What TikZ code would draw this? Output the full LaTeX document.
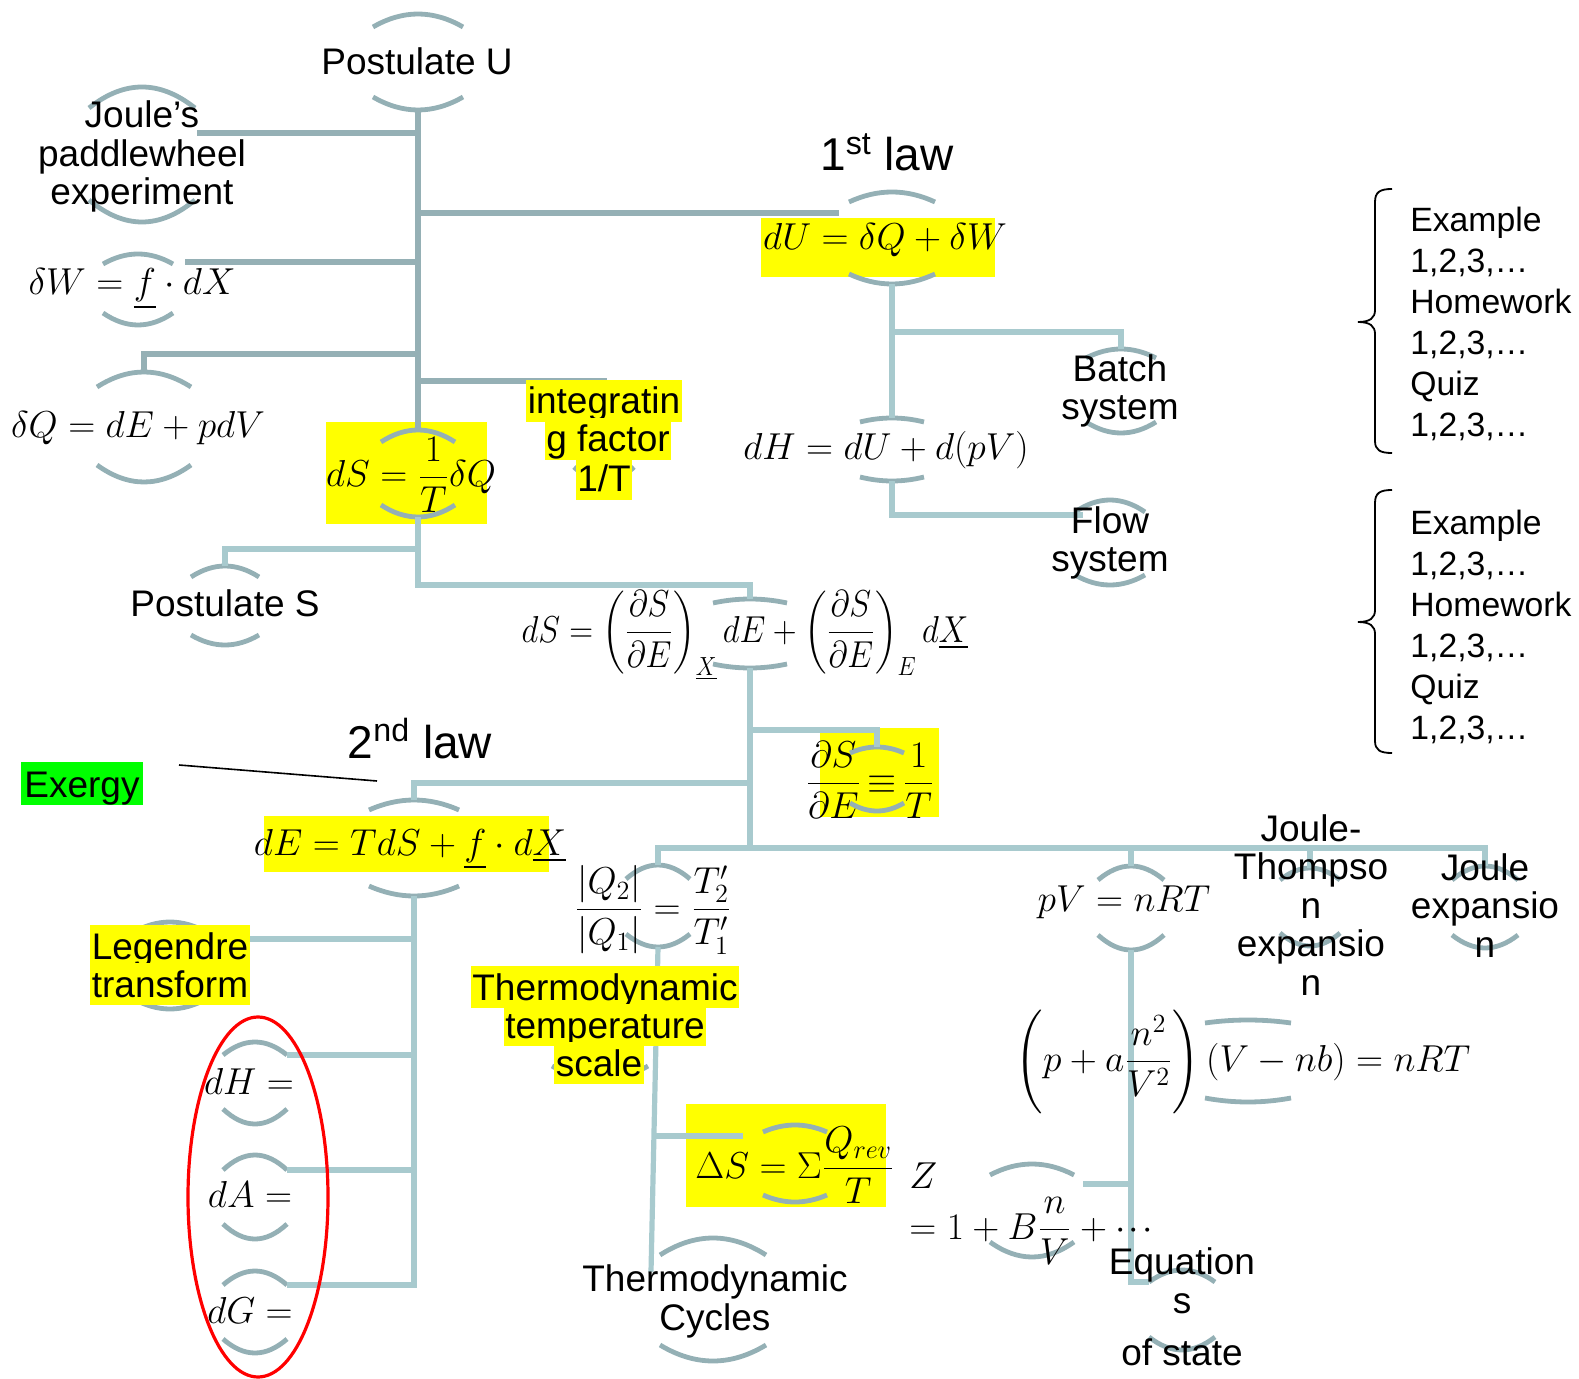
\RequirePackage{fix-cm}
\documentclass[tikz,border=0pt]{standalone}
\usepackage{amsmath}
\usepackage{graphicx}
\usepackage[no-math]{fontspec}
\setmainfont{Liberation Sans}

\definecolor{arcc}{RGB}{148,176,181}
\definecolor{lined}{RGB}{149,176,181}
\definecolor{linel}{RGB}{168,202,206}
\definecolor{hly}{RGB}{255,255,0}
\definecolor{hlg}{RGB}{0,255,0}

% two bracket arcs (above and below) framing a concept
% #1 name, #2 centre x, #3 half width, #4 top ends y, #5 top peak y,
% #6 bottom ends y, #7 bottom trough y
\newcommand\nodearcs[7]{%
  \coordinate (#1-t) at (#2,#5);
  \coordinate (#1-b) at (#2,#7);
  \coordinate (#1-tl) at ({#2-#3},#4);
  \coordinate (#1-tr) at ({#2+#3},#4);
  \coordinate (#1-bl) at ({#2-#3},#6);
  \coordinate (#1-br) at ({#2+#3},#6);
  \draw[arcline] (#1-tl) .. controls ({#2-#3/3},{#4+4/3*(#5-#4)}) and ({#2+#3/3},{#4+4/3*(#5-#4)}) .. (#1-tr);
  \draw[arcline] (#1-bl) .. controls ({#2-#3/3},{#6+4/3*(#7-#6)}) and ({#2+#3/3},{#6+4/3*(#7-#6)}) .. (#1-br);
}
% compact centred dots
\newcommand\tightdots{\mathinner{\cdotp\mkern-1.5mu\cdotp\mkern-1.5mu\cdotp}}

\begin{document}
\begin{tikzpicture}[x=0.5pt, y=-0.5pt,
  arcline/.style={draw=arcc, line width=2.4pt},
  darkline/.style={draw=lined, line width=2.8pt},
  lightline/.style={draw=linel, line width=2.6pt},
  lbl/.style={inner sep=0pt, align=center, anchor=base, font=\fontsize{18.5}{19.25}\selectfont},
  eqn/.style={inner sep=0pt, anchor=base, font=\fontsize{18.75}{22}\selectfont},
  hl/.style={fill=hly, inner xsep=0.8pt, inner ysep=0pt, anchor=base, text height=16.8pt, text depth=4.2pt, font=\fontsize{18.5}{19.25}\selectfont},
  lawlbl/.style={inner sep=0pt, anchor=base, font=\fontsize{23}{27}\selectfont},
  listlbl/.style={inner sep=0pt, align=left, anchor=base west, font=\fontsize{16.85}{20.5}\selectfont},
]
\useasboundingbox (0,0) rectangle (1579,1379);

% highlight fields behind the equations
\fill[hly] (326,422) rectangle (487,524);
\fill[hly] (761,218) rectangle (995,277);
\fill[hly] (820,728) rectangle (939,817);
\fill[hly] (264,816) rectangle (549,872);
\fill[hly] (686,1104) rectangle (886,1207);

% bracket arcs of every concept
\nodearcs{pu}{418}{45}{27}{14}{97}{110}
\nodearcs{ju}{142}{53}{108}{87}{200}{222}
\nodearcs{dw}{138}{35}{264}{254}{313}{325}
\nodearcs{dq}{144}{47}{387}{372}{465}{482}
\nodearcs{if}{604}{30}{432}{420}{467}{482}
\nodearcs{dsq}{418}{37}{442}{430}{505}{517}
\nodearcs{ps}{225}{34}{577}{566}{635}{645}
\nodearcs{du}{892}{43}{202}{192}{274}{284}
\nodearcs{ba}{1121}{35}{358}{349}{422}{433}
\nodearcs{dh}{892}{32}{422}{418}{477}{481}
\nodearcs{fl}{1110}{35}{512}{500}{575}{585}
\nodearcs{dsx}{750}{37}{603}{599}{664}{668}
\nodearcs{eqd}{877}{27}{753}{747}{803}{811}
\nodearcs{de}{414}{45}{810}{800}{886}{896}
\nodearcs{lg}{170}{38}{933}{922}{998}{1009}
\nodearcs{dhh}{255}{32}{1055}{1042}{1109}{1124}
\nodearcs{da}{255}{32}{1170}{1155}{1224}{1239}
\nodearcs{dg}{255}{32}{1285}{1271}{1339}{1353}
\nodearcs{qr}{658}{32}{879}{865}{934}{947}
\nodearcs{tts}{600}{48}{985}{973}{1066}{1080}
\nodearcs{dsum}{795}{32}{1132}{1125}{1195}{1202}
\nodearcs{z}{1032}{42}{1175}{1164}{1242}{1257}
\nodearcs{tc}{713}{53}{1255}{1238}{1345}{1361}
\nodearcs{pv}{1131}{33}{880}{866}{935}{950}
\nodearcs{jt}{1310}{30}{880}{868}{933}{946}
\nodearcs{jx}{1485}{33}{880}{866}{935}{948}
\nodearcs{vdw}{1248}{43}{1023}{1020}{1098}{1102}
\nodearcs{eos}{1182}{33}{1282}{1270}{1337}{1350}

% upper tree
\draw[darkline] (pu-b) -- (dsq-t);
\coordinate (ju-e) at (197,133);
\draw[darkline] (ju-e) -- (ju-e -| pu-b);
\coordinate (du-e) at (839,213);
\draw[darkline] (du-e -| pu-b) -- (du-e);
\coordinate (dw-e) at (185,262);
\draw[darkline] (dw-e) -- (dw-e -| pu-b);
\coordinate (j-dq) at (418,354);
\draw[darkline] (j-dq) -| (dq-t);
\coordinate (j-if) at (418,381);
\draw[darkline] (j-if) -| (if-t);

% lower trees
\coordinate (j-dsx) at (418,585);
\draw[lightline] (dsq-b) -- (j-dsx) -| (dsx-t);
\coordinate (j-ps) at (418,549);
\draw[lightline] (j-ps) -| (ps-t);
\draw[lightline] (du-b) -- (dh-t);
\coordinate (j-ba) at (892,332);
\draw[lightline] (j-ba) -| (ba-t);
\coordinate (fl-e) at (1083,515);
\draw[lightline] (dh-b) |- (fl-e);
\coordinate (j-main) at (750,848);
\draw[lightline] (dsx-b) -- (j-main);
\coordinate (j-eqd) at (750,730);
\draw[lightline] (j-eqd) -| (eqd-t);
\coordinate (j-de) at (750,783);
\draw[lightline] (j-de) -| (de-t);
\draw[lightline] (qr-t) |- (jx-t |- j-main) -- (jx-t);
\draw[lightline] (pv-t) -- (pv-t |- j-main);
\draw[lightline] (jt-t) -- (jt-t |- j-main);
\draw[lightline] (de-b) |- (dg-tr);
\coordinate (lg-e) at (249,939);
\draw[lightline] (lg-e) -- (lg-e -| de-b);
\draw[lightline] (dhh-tr) -- (dhh-tr -| de-b);
\draw[lightline] (da-tr) -- (da-tr -| de-b);
\coordinate (tc-e) at (651,1272);
\draw[lightline] (qr-b) -- (tc-e);
\coordinate (j-dsum) at (655,1136);
\coordinate (dsum-e) at (743,1136);
\draw[lightline] (j-dsum) -- (dsum-e);
\draw[lightline] (pv-b) |- (eos-tl);
\coordinate (z-e) at (1083,1184);
\draw[lightline] (z-e) -- (z-e -| pv-b);

% potentials grouped by the red ring
\draw[red, line width=1.6pt] (258,1197) ellipse [x radius=70, y radius=180];

% pointer from Exergy
\coordinate (ex-a) at (179,765);
\coordinate (ex-b) at (377,781);
\draw[black, line width=0.8pt] (ex-a) -- (ex-b);

% braces in front of the exercise lists
\draw[line width=0.9pt] (1392,189) .. controls (1380,189) and (1375,192) .. (1375,202) -- (1375,310)
  .. controls (1375,318) and (1370,322) .. (1358,322) .. controls (1370,322) and (1375,326) .. (1375,334)
  -- (1375,441) .. controls (1375,450) and (1380,453) .. (1392,453);
\draw[line width=0.9pt] (1392,490) .. controls (1380,490) and (1375,493) .. (1375,503) -- (1375,610)
  .. controls (1375,618) and (1370,622) .. (1358,622) .. controls (1370,622) and (1375,626) .. (1375,634)
  -- (1375,741) .. controls (1375,750) and (1380,753) .. (1392,753);

% highlighted word labels (trailing spaces are highlighted too)
\node[hl] (if1) at (604,414) {integratin};
\node[hl] (if2) at (608,452) {g factor\ };
\node[hl] (if3) at (604,492) {1/T};
\node[hl] (lg1) at (170,959) {Legendre};
\node[hl] (lg2) at (170,997) {transform};
\node[hl] (tts1) at (605,1000) {Thermodynamic\ };
\node[hl] (tts2) at (605,1038) {temperature\ };
\node[hl] (tts3) at (599,1076) {scale};
\node[hl, fill=hlg, inner xsep=1.5pt, text height=17.5pt, text depth=4pt] (ex) at (82,797) {Exergy};

% word labels
\node[lbl] (pu) at (417,75) {Postulate U};
\node[lbl] (ju) at (142,205) {Joule’s\\paddlewheel\\experiment};
\node[lawlbl] (law1) at (887,171) {1\textsuperscript{st} law};
\node[lbl] (ba) at (1120,420) {Batch\\system};
\node[lbl] (fl) at (1110,572) {Flow\\system};
\node[lbl] (ps) at (225,617) {Postulate S};
\node[lawlbl] (law2) at (420,758) {2\textsuperscript{nd} law};
\node[lbl] (tc) at (715,1330) {Thermodynamic\\Cycles};
\node[lbl] (jt) at (1311,995) {Joule-\\Thompso\\n\\expansio\\n};
\node[lbl] (jx) at (1485,957) {Joule\\expansio\\n};
\node[lbl] (eos) at (1182,1365) {Equation\\s\\[6.75pt]of state};
\node[listlbl] (list1) at (1410,437) {Example\\1,2,3,…\\Homework\\1,2,3,…\\Quiz\\1,2,3,…};
\node[listlbl] (list2) at (1410,739) {Example\\1,2,3,…\\Homework\\1,2,3,…\\Quiz\\1,2,3,…};

% equations
\node[eqn] (dw) at (132,295) {$\delta W = \underline{f}\cdot dX$};
\node[eqn] (dq) at (138,438) {$\delta Q = dE + pdV$};
\node[eqn] (dsq) at (411,487) {$dS = \dfrac{1}{T}\delta Q$};
\node[eqn] (du) at (885,250) {$dU = \delta Q + \delta W$};
\node[eqn] (dh) at (886,460) {$dH = dU + d(pV)$};
\node[eqn] (dsx) at (745,642) {\scalebox{0.88}[1]{$dS = \left(\dfrac{\partial S}{\partial E}\right)_{\underline{X}} dE + \left(\dfrac{\partial S}{\partial E}\right)_{E} d\underline{X}$}};
\node[eqn] (eqd) at (870,793) {$\dfrac{\partial S}{\partial E}\mkern-2mu \equiv\mkern-2mu \dfrac{1}{T}$};
\node[eqn] (de) at (410,855) {$dE = TdS + \underline{f}\cdot d\underline{X}$};
\node[eqn] (dhh) at (249,1094) {$dH =$};
\node[eqn] (da) at (250,1207) {$dA =$};
\node[eqn] (dg) at (250,1323) {$dG =$};
\node[eqn] (qr) at (653,919) {$\dfrac{|Q_2|}{|Q_1|} = \dfrac{T'_2}{T'_1}$};
\node[eqn] (dsum) at (795,1178) {$\Delta S = \Sigma\dfrac{Q_{rev}}{T}$};
\node[eqn, anchor=base west] (z1) at (909,1188) {$Z$};
\node[eqn, anchor=base west] (z2) at (909,1239) {$= 1 + B\dfrac{n}{V} + \tightdots$};
\node[eqn] (pv) at (1124,911) {$pV = nRT$};
\node[eqn] (vdw) at (1243,1071) {$\left(p + a\dfrac{n^2}{V^2}\right)(V - nb) = nRT$};
\end{tikzpicture}
\end{document}
